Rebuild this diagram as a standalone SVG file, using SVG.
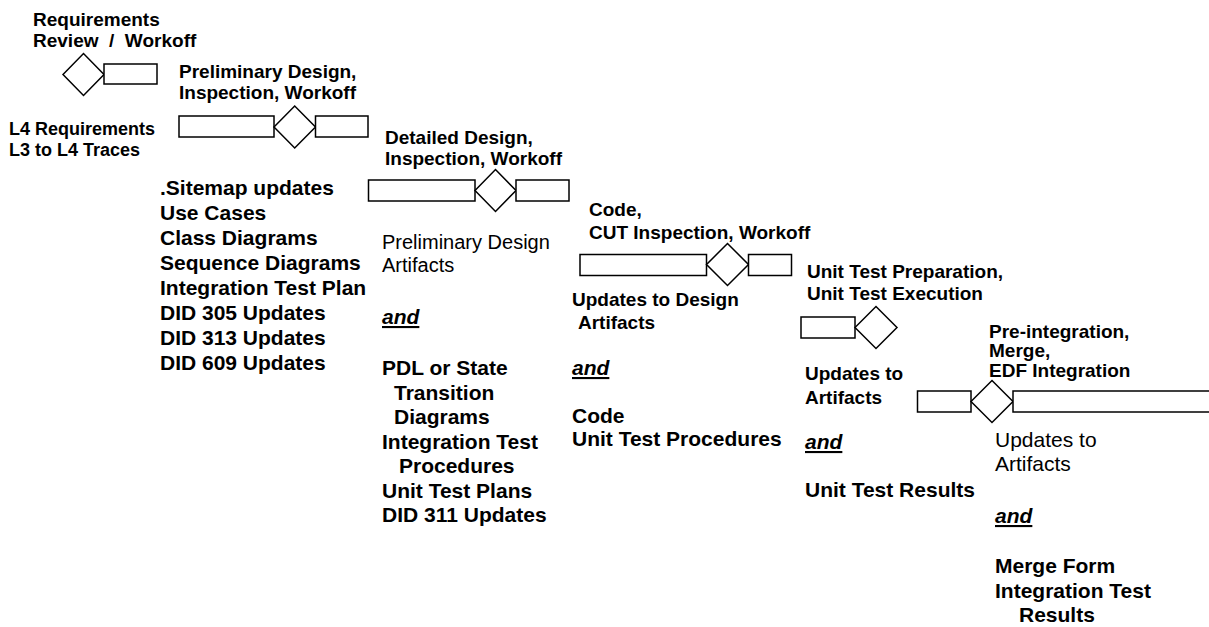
<svg xmlns="http://www.w3.org/2000/svg" width="1209" height="627" viewBox="0 0 1209 627">
<style>
text{font-family:"Liberation Sans",Arial,sans-serif;fill:#000}
.h{font-weight:bold;font-size:19px}
.b{font-weight:bold;font-size:21px}
.r{font-size:21px}
.a{font-weight:bold;font-style:italic;font-size:21px;text-decoration:underline}
.s{fill:#fff;stroke:#000;stroke-width:1.5}
</style>
<rect width="1209" height="627" fill="#fff"/>
<g id="connectors"></g>
<g id="req">
<text class="h" x="33" y="26">Requirements</text>
<text class="h" x="33" y="47" xml:space="preserve">Review  /  Workoff</text>
<polygon class="s" points="63,74.5 83.5,53.5 104,74.5 83.5,95.5"/>
<rect class="s" x="104" y="64" width="53" height="20"/>
</g>
<g id="req-out">
<text class="h" x="9" y="135" style="font-size:18px">L4 Requirements</text>
<text class="h" x="9" y="156" style="font-size:18px">L3 to L4 Traces</text>
</g>
<g id="prelim">
<text class="h" x="179" y="78">Preliminary Design,</text>
<text class="h" x="179" y="99">Inspection, Workoff</text>
<rect class="s" x="179" y="116" width="95" height="21"/>
<polygon class="s" points="274,127 294.7,106 315.5,127 294.7,148"/>
<rect class="s" x="315.5" y="116" width="52.5" height="21"/>
</g>
<g id="prelim-out">
<text class="b" x="160" y="195">.Sitemap updates</text>
<text class="b" x="160" y="220">Use Cases</text>
<text class="b" x="160" y="245">Class Diagrams</text>
<text class="b" x="160" y="270">Sequence Diagrams</text>
<text class="b" x="160" y="295">Integration Test Plan</text>
<text class="b" x="160" y="320">DID 305 Updates</text>
<text class="b" x="160" y="345">DID 313 Updates</text>
<text class="b" x="160" y="370">DID 609 Updates</text>
</g>
<g id="detailed">
<text class="h" x="385" y="144">Detailed Design,</text>
<text class="h" x="385" y="165">Inspection, Workoff</text>
<rect class="s" x="368.5" y="180" width="106.5" height="21"/>
<polygon class="s" points="475,190.5 495.5,169.5 516,190.5 495.5,211.5"/>
<rect class="s" x="516" y="180" width="53" height="21"/>
</g>
<g id="detailed-out">
<text class="r" x="382" y="249" style="font-size:20px">Preliminary Design</text>
<text class="r" x="382" y="272" style="font-size:20px">Artifacts</text>
<text class="a" x="382" y="324">and</text>
<text class="b" x="382" y="375">PDL or State</text>
<text class="b" x="394" y="400">Transition</text>
<text class="b" x="394" y="424">Diagrams</text>
<text class="b" x="382" y="449">Integration Test</text>
<text class="b" x="399" y="473">Procedures</text>
<text class="b" x="382" y="498">Unit Test Plans</text>
<text class="b" x="382" y="522">DID 311 Updates</text>
</g>
<g id="code">
<text class="h" x="589" y="216">Code,</text>
<text class="h" x="589" y="239">CUT Inspection, Workoff</text>
<rect class="s" x="580" y="254.5" width="126.5" height="21"/>
<polygon class="s" points="706.5,264.5 727.5,243.5 748.5,264.5 727.5,285.5"/>
<rect class="s" x="748.5" y="254.5" width="43" height="21"/>
</g>
<g id="code-out">
<text class="h" x="572" y="306">Updates to Design</text>
<text class="h" x="578" y="329">Artifacts</text>
<text class="a" x="572" y="375">and</text>
<text class="b" x="572" y="423">Code</text>
<text class="b" x="572" y="446">Unit Test Procedures</text>
</g>
<g id="unittest">
<text class="h" x="807" y="278">Unit Test Preparation,</text>
<text class="h" x="807" y="300">Unit Test Execution</text>
<rect class="s" x="801" y="317" width="54" height="21"/>
<polygon class="s" points="855,327.5 876,306.5 897,327.5 876,348.5"/>
</g>
<g id="unittest-out">
<text class="h" x="805" y="380">Updates to</text>
<text class="h" x="805" y="404">Artifacts</text>
<text class="a" x="805" y="449">and</text>
<text class="b" x="805" y="497">Unit Test Results</text>
</g>
<g id="integration">
<text class="h" x="989" y="338">Pre-integration,</text>
<text class="h" x="989" y="357">Merge,</text>
<text class="h" x="989" y="377">EDF Integration</text>
<rect class="s" x="917.5" y="391" width="53.5" height="21"/>
<polygon class="s" points="971,401.5 992,380.5 1013,401.5 992,422.5"/>
<rect class="s" x="1013" y="391" width="210" height="21"/>
</g>
<g id="integration-out">
<text class="r" x="995" y="447">Updates to</text>
<text class="r" x="995" y="471">Artifacts</text>
<text class="a" x="995" y="523">and</text>
<text class="b" x="995" y="573">Merge Form</text>
<text class="b" x="995" y="598">Integration Test</text>
<text class="b" x="1019" y="622">Results</text>
</g>
</svg>
